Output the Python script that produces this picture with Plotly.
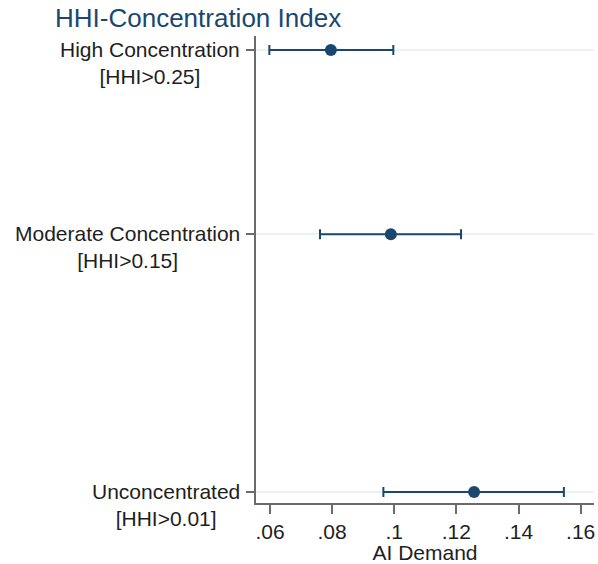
import plotly.graph_objects as go

# HHI concentration groups (y position = HHI threshold)
groups = ["High Concentration", "Moderate Concentration", "Unconcentrated"]
thresholds = [0.25, 0.15, 0.01]
threshold_labels = ["[HHI>0.25]", "[HHI>0.15]", "[HHI>0.01]"]

# Point estimates and 95% confidence bounds for AI demand
estimates = [0.0796, 0.0989, 0.1257]
ci_low = [0.0598, 0.0761, 0.0965]
ci_high = [0.0997, 0.1215, 0.1546]

x_ticks = [0.06, 0.08, 0.10, 0.12, 0.14, 0.16]
x_tick_text = [".06", ".08", ".1", ".12", ".14", ".16"]

navy = "#1a476f"
axis_gray = "#6b6b6b"
font_family = "Liberation Sans, Arial, sans-serif"

err_plus = [h - e for h, e in zip(ci_high, estimates)]
err_minus = [e - l for e, l in zip(estimates, ci_low)]

fig = go.Figure()
fig.add_trace(go.Scatter(
    x=estimates,
    y=thresholds,
    mode="markers",
    marker=dict(color=navy, size=12),
    error_x=dict(type="data", symmetric=False, array=err_plus, arrayminus=err_minus,
                 color=navy, thickness=2, width=5),
    showlegend=False,
    hoverinfo="skip",
))

# Two-line group labels, centred under each other, to the left of the axis
for name, thr, lab in zip(groups, thresholds, threshold_labels):
    fig.add_annotation(
        text=f"{name}<br>{lab}",
        xref="paper", x=0, xanchor="right", xshift=-14,
        yref="y", y=thr, yanchor="top", yshift=14,
        align="center", showarrow=False,
        font=dict(family=font_family, size=21, color="#1e1e1e"),
    )

fig.update_layout(
    width=598, height=564,
    margin=dict(l=256, r=4, t=36, b=61),
    paper_bgcolor="white", plot_bgcolor="white",
    font=dict(family=font_family, size=21, color="#1e1e1e"),
    title=dict(
        text="HHI-Concentration Index",
        font=dict(family=font_family, size=26, color=navy),
        xref="container", x=55 / 598, xanchor="left",
        yref="container", y=1 - 18 / 564, yanchor="middle",
    ),
    xaxis=dict(
        range=[0.0555, 0.1643],
        tickvals=x_ticks, ticktext=x_tick_text,
        ticks="outside", ticklen=9, tickwidth=1.5, tickcolor=axis_gray,
        showline=True, linecolor=axis_gray, linewidth=1.5,
        showgrid=False, zeroline=False,
        tickfont=dict(size=21, color="#1e1e1e"),
        title=dict(text="AI Demand", font=dict(size=21, color="#1e1e1e"), standoff=2),
    ),
    yaxis=dict(
        range=[0.004, 0.2576],
        tickvals=thresholds, showticklabels=False,
        ticks="outside", ticklen=8, tickwidth=1.5, tickcolor=axis_gray,
        showline=True, linecolor=axis_gray, linewidth=1.5,
        showgrid=True, gridcolor="#eaf2f3", gridwidth=1.5,
        zeroline=False,
    ),
)

fig.write_html("out.html")
